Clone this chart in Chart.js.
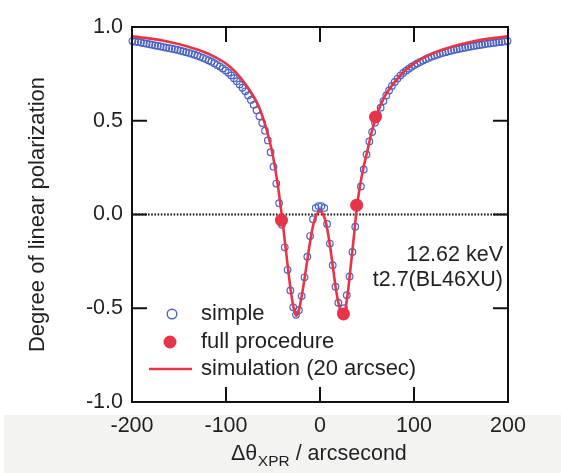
<!DOCTYPE html>
<html>
<head>
<meta charset="utf-8">
<script src="https://cdn.jsdelivr.net/npm/chart.js@4.4.1/dist/chart.umd.min.js"></script>
<style>
html,body{margin:0;padding:0;background:#fff;}
canvas{display:block;}
</style>
</head>
<body>
<canvas id="c" width="561" height="473"></canvas>
<script>
// ---- data ----
const simpleX = [-199.5,-196.5,-193.5,-190.5,-187.5,-184.5,-181.5,-178.5,-175.5,-172.5,-169.5,-166.5,-163.5,-160.5,-157.5,-154.5,-151.5,-148.5,-145.5,-142.5,-139.5,-136.5,-133.5,-130.5,-127.5,-124.5,-121.5,-118.5,-115.5,-112.5,-109.5,-106.5,-103.5,-100.5,-97.5,-94.5,-91.5,-88.5,-85.5,-82.5,-79.5,-76.5,-73.5,-70.5,-67.5,-64.5,-61.5,-58.5,-55.5,-52.5,-49.5,-46.5,-43.5,-40.5,-37.5,-34.5,-31.5,-28.5,-25.5,-22.5,-19.5,-16.5,-13.5,-10.5,-7.5,-4.5,-1.5,
1.5,4.5,7.5,10.5,13.5,16.5,19.5,22.5,25.5,28.5,31.5,34.5,37.5,40.5,43.5,46.5,49.5,52.5,55.5,58.5,61.5,64.5,67.5,70.5,73.5,76.5,79.5,82.5,85.5,88.5,91.5,94.5,97.5,100.5,103.5,106.5,109.5,112.5,115.5,118.5,121.5,124.5,127.5,130.5,133.5,136.5,139.5,142.5,145.5,148.5,151.5,154.5,157.5,160.5,163.5,166.5,169.5,172.5,175.5,178.5,181.5,184.5,187.5,190.5,193.5,196.5,199.5];
const simpleY = [0.925,0.922,0.920,0.917,0.914,0.911,0.908,0.905,0.902,0.899,0.896,0.893,0.890,0.887,0.884,0.881,0.878,0.874,0.870,0.866,0.862,0.857,0.852,0.847,0.841,0.835,0.829,0.822,0.815,0.807,0.798,0.789,0.779,0.768,0.756,0.742,0.727,0.711,0.694,0.676,0.657,0.635,0.611,0.585,0.556,0.524,0.488,0.447,0.395,0.332,0.255,0.165,0.06,-0.055,-0.175,-0.295,-0.405,-0.495,-0.535,-0.51,-0.435,-0.335,-0.225,-0.115,-0.025,0.035,0.045,
0.045,0.035,-0.05,-0.155,-0.27,-0.385,-0.47,-0.52,-0.50,-0.43,-0.33,-0.20,-0.065,0.05,0.15,0.24,0.32,0.39,0.44,0.49,0.53,0.57,0.605,0.635,0.662,0.686,0.707,0.725,0.741,0.755,0.767,0.778,0.788,0.797,0.806,0.814,0.821,0.828,0.835,0.841,0.847,0.852,0.857,0.862,0.866,0.870,0.874,0.878,0.881,0.884,0.887,0.890,0.893,0.896,0.899,0.901,0.904,0.906,0.909,0.911,0.913,0.915,0.917,0.919,0.921,0.923,0.925];

const fullX = [-41, 25, 39, 59];
const fullY = [-0.03, -0.53, 0.05, 0.52];

const simX = [-200,-180,-160,-140,-120,-110,-100,-90,-80,-70,-65,-60,-55,-50,-45,-42,-40,-37,-34,-31,-28,-25.5,-23,-20,-17,-14,-11,-8,-5,-2,0,2,5,8,11,14,17,20,23,25,27,30,33,36,39,42,46,50,55,60,65,70,80,90,100,110,120,140,160,180,200];
const simY = [0.95,0.938,0.92,0.895,0.86,0.835,0.805,0.76,0.70,0.625,0.575,0.505,0.42,0.31,0.16,0.05,-0.03,-0.16,-0.29,-0.41,-0.50,-0.54,-0.52,-0.45,-0.36,-0.26,-0.16,-0.075,-0.015,0.012,0.018,0.012,-0.02,-0.085,-0.18,-0.29,-0.40,-0.48,-0.525,-0.535,-0.505,-0.40,-0.26,-0.12,0.03,0.135,0.245,0.33,0.44,0.525,0.59,0.64,0.71,0.765,0.805,0.835,0.86,0.895,0.92,0.938,0.95];

const xTickValues = [-200, -100, 0, 100, 200];
const yTickValues = [-1.0, -0.5, 0.0, 0.5, 1.0];
const seriesNames = ['simple', 'full procedure', 'simulation (20 arcsec)'];
const noteLines = ['12.62 keV', 't2.7(BL46XU)'];
const yTitle = 'Degree of linear polarization';
const xTitleParts = ['\u0394\u03b8', 'XPR', ' / arcsecond'];

// ---- styling ----
const BLUE = 'rgb(74,100,196)';
const RED = 'rgb(232,52,72)';
const INK = '#231f20';
const FONT = '"Liberation Sans", Arial, Helvetica, sans-serif';

const toPts = (xs, ys) => xs.map((x, i) => ({x: x, y: ys[i]}));

const decor = {
  id: 'decor',
  beforeDraw(chart) {
    const c = chart.ctx;
    c.save();
    c.fillStyle = '#ffffff';
    c.fillRect(0, 0, chart.width, chart.height);
    c.fillStyle = '#f3f3f1';
    c.fillRect(4, 415, chart.width - 4, chart.height - 415);
    c.restore();
  },
  beforeDatasetsDraw(chart) {
    const c = chart.ctx, a = chart.chartArea, ys = chart.scales.y;
    const y0 = ys.getPixelForValue(0);
    c.save();
    c.strokeStyle = '#111';
    c.lineWidth = 1.8;
    c.setLineDash([1.6, 1.6]);
    c.beginPath();
    c.moveTo(a.left, y0);
    c.lineTo(a.right, y0);
    c.stroke();
    c.restore();
  },
  afterDatasetsDraw(chart) {
    const c = chart.ctx, a = chart.chartArea;
    const xs = chart.scales.x, ys = chart.scales.y;
    c.save();
    // frame
    c.strokeStyle = '#111';
    c.lineWidth = 2;
    c.strokeRect(a.left, a.top, a.right - a.left, a.bottom - a.top);
    // inward ticks
    const tl = 15;
    c.beginPath();
    xTickValues.slice(1, -1).forEach(v => {
      const px = xs.getPixelForValue(v);
      c.moveTo(px, a.bottom); c.lineTo(px, a.bottom - tl);
      c.moveTo(px, a.top); c.lineTo(px, a.top + tl);
    });
    yTickValues.slice(1, -1).forEach(v => {
      const py = ys.getPixelForValue(v);
      c.moveTo(a.left, py); c.lineTo(a.left + tl, py);
      c.moveTo(a.right, py); c.lineTo(a.right - tl, py);
    });
    c.stroke();

    // legend
    c.fillStyle = INK;
    c.font = '22px ' + FONT;
    c.textBaseline = 'middle';
    c.textAlign = 'left';
    const lx = 201, ly = [314, 342, 369];
    c.lineWidth = 1.4;
    c.strokeStyle = BLUE;
    c.beginPath(); c.arc(172, ly[0], 4.8, 0, Math.PI * 2); c.stroke();
    c.fillStyle = RED;
    c.beginPath(); c.arc(170, ly[1], 6.5, 0, Math.PI * 2); c.fill();
    c.strokeStyle = RED; c.lineWidth = 2.5;
    c.beginPath(); c.moveTo(149, ly[2]); c.lineTo(192, ly[2]); c.stroke();
    c.fillStyle = INK;
    seriesNames.forEach((t, i) => c.fillText(t, lx, ly[i]));

    // annotation
    c.textAlign = 'right';
    c.font = '21.5px ' + FONT;
    c.fillText(noteLines[0], 503, 255);
    c.fillText(noteLines[1], 503, 280);

    // x title with subscript
    c.textAlign = 'left';
    c.textBaseline = 'alphabetic';
    let x = 231;
    c.font = '21.5px ' + FONT;
    c.fillText(xTitleParts[0], x, 460);
    x += c.measureText(xTitleParts[0]).width + 0.5;
    c.font = '15.5px ' + FONT;
    c.fillText(xTitleParts[1], x, 466);
    x += c.measureText(xTitleParts[1]).width;
    c.font = '21.5px ' + FONT;
    c.fillText(xTitleParts[2], x, 460);
    c.restore();
  }
};

new Chart(document.getElementById('c'), {
  type: 'scatter',
  data: {
    datasets: [
      {
        label: seriesNames[1],
        data: toPts(fullX, fullY),
        pointRadius: 6.5,
        pointBackgroundColor: RED,
        pointBorderWidth: 0,
        borderColor: RED,
        showLine: false,
        order: 0,
        clip: false
      },
      {
        label: seriesNames[2],
        data: toPts(simX, simY),
        showLine: true,
        pointRadius: 0,
        borderColor: RED,
        borderWidth: 2.6,
        cubicInterpolationMode: 'monotone',
        fill: false,
        order: 1
      },
      {
        label: seriesNames[0],
        data: toPts(simpleX, simpleY),
        pointRadius: 3.3,
        pointBorderWidth: 1.2,
        pointBorderColor: BLUE,
        pointBackgroundColor: 'rgba(0,0,0,0)',
        showLine: false,
        order: 2,
        clip: false
      }
    ]
  },
  options: {
    responsive: false,
    animation: false,
    devicePixelRatio: 1,
    events: [],
    layout: { padding: { top: 27, right: 53, left: 0, bottom: 0 } },
    plugins: { legend: { display: false }, tooltip: { enabled: false } },
    scales: {
      x: {
        type: 'linear',
        min: -200, max: 200,
        afterFit: s => { s.height = 71; },
        afterBuildTicks: s => { s.ticks = xTickValues.map(v => ({value: v})); },
        grid: { display: false, drawTicks: false },
        border: { display: false },
        ticks: {
          padding: 11,
          color: INK,
          font: { family: FONT, size: 21.5 },
          maxRotation: 0,
          callback: v => String(v)
        },
        title: { display: false }
      },
      y: {
        type: 'linear',
        min: -1, max: 1,
        afterFit: s => { s.width = 132; },
        afterBuildTicks: s => { s.ticks = yTickValues.map(v => ({value: v})); },
        grid: { display: false, drawTicks: false },
        border: { display: false },
        ticks: {
          padding: 9,
          color: INK,
          font: { family: FONT, size: 21.5 },
          callback: v => Number(v).toFixed(1)
        },
        title: {
          display: true,
          text: yTitle,
          color: INK,
          font: { family: FONT, size: 22 },
          padding: { top: 25, bottom: 0 }
        }
      }
    }
  },
  plugins: [decor]
});
</script>
</body>
</html>
